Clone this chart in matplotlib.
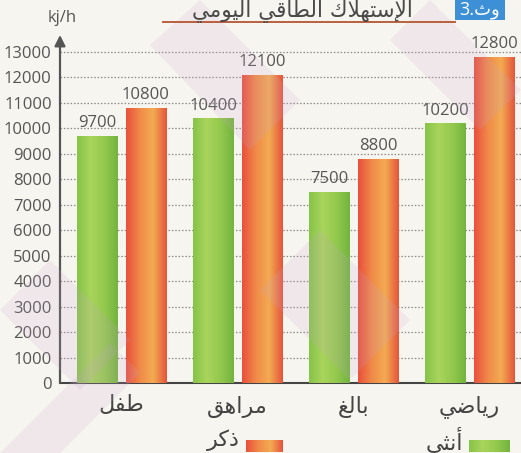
import numpy as np
import matplotlib
matplotlib.use('Agg')
import matplotlib.pyplot as plt
from matplotlib.colors import LinearSegmentedColormap
from matplotlib.patches import Rectangle

# data
categories = ['طفل', 'مراهق', 'بالغ', 'رياضي']
female = [9700, 10400, 7500, 10200]
male = [10800, 12100, 8800, 12800]
yticks = list(range(0, 14000, 1000))
title = 'الإستهلاك الطاقي اليومي'
doc_label = 'وث'
legend_female = 'أنثى'
legend_male = 'ذكر'
unit = 'kj/h'

# small arabic shaper (matplotlib has no shaping / bidi)
FORMS = {
    'ا': ('\uFE8D', '\uFE8E', None, None),
    'أ': ('\uFE83', '\uFE84', None, None),
    'إ': ('\uFE87', '\uFE88', None, None),
    'ب': ('\uFE8F', '\uFE90', '\uFE91', '\uFE92'),
    'ت': ('\uFE95', '\uFE96', '\uFE97', '\uFE98'),
    'ث': ('\uFE99', '\uFE9A', '\uFE9B', '\uFE9C'),
    'ذ': ('\uFEAB', '\uFEAC', None, None),
    'ر': ('\uFEAD', '\uFEAE', None, None),
    'س': ('\uFEB1', '\uFEB2', '\uFEB3', '\uFEB4'),
    'ض': ('\uFEBD', '\uFEBE', '\uFEBF', '\uFEC0'),
    'ط': ('\uFEC1', '\uFEC2', '\uFEC3', '\uFEC4'),
    'غ': ('\uFECD', '\uFECE', '\uFECF', '\uFED0'),
    'ف': ('\uFED1', '\uFED2', '\uFED3', '\uFED4'),
    'ق': ('\uFED5', '\uFED6', '\uFED7', '\uFED8'),
    'ك': ('\uFED9', '\uFEDA', '\uFEDB', '\uFEDC'),
    'ل': ('\uFEDD', '\uFEDE', '\uFEDF', '\uFEE0'),
    'م': ('\uFEE1', '\uFEE2', '\uFEE3', '\uFEE4'),
    'ن': ('\uFEE5', '\uFEE6', '\uFEE7', '\uFEE8'),
    'ه': ('\uFEE9', '\uFEEA', '\uFEEB', '\uFEEC'),
    'و': ('\uFEED', '\uFEEE', None, None),
    'ى': ('\uFEEF', '\uFEF0', '\uFBE8', '\uFBE9'),
    'ي': ('\uFEF1', '\uFEF2', '\uFEF3', '\uFEF4'),
}
LAM_ALEF = {
    'ا': ('\uFEFB', '\uFEFC', None, None),
    'أ': ('\uFEF7', '\uFEF8', None, None),
    'إ': ('\uFEF9', '\uFEFA', None, None),
}


def shape(text):
    tokens = []
    i = 0
    while i < len(text):
        if text[i] == 'ل' and i + 1 < len(text) and text[i + 1] in LAM_ALEF:
            tokens.append(LAM_ALEF[text[i + 1]])
            i += 2
        else:
            tokens.append(FORMS.get(text[i], text[i]))
            i += 1
    out = []
    for k, t in enumerate(tokens):
        if isinstance(t, str):
            out.append(t)
            continue
        prev = tokens[k - 1] if k > 0 else None
        nxt = tokens[k + 1] if k + 1 < len(tokens) else None
        jp = isinstance(prev, tuple) and prev[2] is not None
        jn = t[2] is not None and isinstance(nxt, tuple)
        if jp and jn:
            out.append(t[3])
        elif jp:
            out.append(t[1])
        elif jn:
            out.append(t[2])
        else:
            out.append(t[0])
    return ''.join(reversed(out))


plt.rcParams['font.family'] = ['Open Sans', 'DejaVu Sans']
AR = ['DejaVu Sans']
W, H = 521, 453
BG = '#f7f5ef'

fig = plt.figure(figsize=(W / 100, H / 100), dpi=100, facecolor=BG)
ax = fig.add_axes([60 / W, (H - 383) / H, (W - 60) / W, (383 - 35) / H])
ax.set_facecolor('none')

# faint chevrons of the printed page behind the chart
for pts in [[(0, 310), (50, 260), (130, 340), (80, 390)],
            [(0, 453), (60, 453), (140, 373), (110, 343)],
            [(150, 45), (200, 0), (300, 100), (250, 150)],
            [(260, 290), (320, 230), (410, 320), (350, 380)],
            [(390, 40), (430, 0), (521, 90), (480, 130)]]:
    poly = plt.Polygon([(x / W, 1 - y / H) for x, y in pts], closed=True,
                       transform=fig.transFigure, facecolor='#c9a3cf',
                       alpha=0.16, edgecolor='none', zorder=0)
    fig.patches.append(poly)

green_cm = LinearSegmentedColormap.from_list('g', ['#86c448', '#a9d45c', '#94c94e', '#74b43f'])
red_cm = LinearSegmentedColormap.from_list('r', ['#e9503c', '#f08a48', '#f3ab52', '#e5553c'])

x = np.arange(len(categories))
off, bw = 0.211, 0.349
bars_f = ax.bar(x - off, female, bw, color='#8fc64c', zorder=2)
bars_m = ax.bar(x + off, male, bw, color='#ee7444', zorder=2)

grad = np.linspace(0, 1, 64).reshape(1, -1)
for bars, cmap in [(bars_f, green_cm), (bars_m, red_cm)]:
    for b in bars:
        x0, w, h = b.get_x(), b.get_width(), b.get_height()
        im = ax.imshow(grad, cmap=cmap, extent=[x0, x0 + w, 0, h],
                       aspect='auto', zorder=3, interpolation='bicubic')
        im.set_clip_path(b)

for bars, vals in [(bars_f, female), (bars_m, male)]:
    for b, v in zip(bars, vals):
        ax.text(b.get_x() + b.get_width() / 2, v + 180, str(v), ha='center',
                va='bottom', fontsize=12, color='#555555', zorder=5)

ax.set_xlim(-0.530, 3.444)
ax.set_ylim(0, 13667)
ax.set_yticks(yticks)
ax.set_yticklabels([str(t) for t in yticks], fontsize=12, color='#555555')
ax.tick_params(axis='y', length=0, pad=6)
ax.set_xticks(x)
ax.set_xticklabels([shape(c) for c in categories], fontsize=16,
                   color='#444444', family=AR)
ax.tick_params(axis='x', length=0, pad=9)

for t in yticks[1:]:
    ax.axhline(t, color='#8a8a8a', lw=0.9, ls=(0, (1.2, 1.5)), zorder=1)

for s in ['top', 'right']:
    ax.spines[s].set_visible(False)
ax.spines['left'].set_visible(False)
ax.spines['bottom'].set_color('#444444')
ax.spines['bottom'].set_linewidth(1.5)
ax.annotate('', xy=(0, 1.0), xytext=(0, 0), xycoords='axes fraction',
            arrowprops=dict(arrowstyle='-|>', color='#555555', lw=1.6,
                            mutation_scale=16, shrinkA=0, shrinkB=0))

fig.text(62 / W, 1 - 18 / H, unit, ha='center', va='center', fontsize=12,
         color='#555555')

# title above a thin rule
fig.text(302 / W, 1 - 16 / H, shape(title), ha='center', va='baseline',
         fontsize=15.5, color='#4a4a4a', family=AR)
fig.add_artist(plt.Line2D([163 / W, 455 / W], [1 - 22 / H, 1 - 22 / H],
                          color='#b8603e', lw=1.4))
fig.patches.append(Rectangle((455 / W, 1 - 20 / H), 50 / W, 20 / H,
                             transform=fig.transFigure, facecolor='#3d8fd6',
                             edgecolor='none'))
fig.text(480 / W, 1 - 10 / H, '3.' + shape(doc_label), ha='center',
         va='center', fontsize=13, color='white')

# legend drawn by hand, swatch to the right of the text
for label, cmap, sx, sw in [(legend_male, red_cm, 246, 37),
                            (legend_female, green_cm, 469, 41)]:
    lax = fig.add_axes([sx / W, 1 - 452 / H, sw / W, 12 / H])
    lax.imshow(grad, cmap=cmap, aspect='auto', interpolation='bicubic')
    lax.axis('off')
    fig.text((sx - 6) / W, 1 - 440 / H, shape(label), ha='right',
             va='center', fontsize=16, color='#444444', family=AR)

fig.savefig('out.png', dpi=100, facecolor=BG)
